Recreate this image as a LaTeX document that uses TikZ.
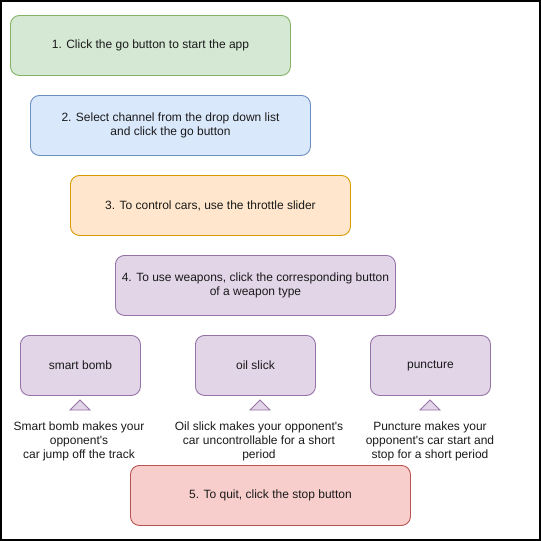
\documentclass[tikz,border=0pt]{standalone}
\usepackage{fontspec}
\setmainfont{Liberation Sans}[Ligatures=TeXOff]
\definecolor{gfill}{HTML}{D5E8D4}\definecolor{gline}{HTML}{82B366}
\definecolor{bfill}{HTML}{DAE8FC}\definecolor{bline}{HTML}{6C8EBF}
\definecolor{ofill}{HTML}{FFE6CC}\definecolor{oline}{HTML}{D79B00}
\definecolor{pfill}{HTML}{E1D5E7}\definecolor{pline}{HTML}{9673A6}
\definecolor{rfill}{HTML}{F8CECC}\definecolor{rline}{HTML}{B85450}
\definecolor{txt}{HTML}{1A1A1A}
\begin{document}
\begin{tikzpicture}[x=1pt,y=-1pt,
  basebox/.style={draw, rounded corners=9pt, line width=0.9pt, anchor=north west,
    minimum height=60pt, align=center, inner sep=2pt, text=txt,
    font=\fontsize{12}{14}\selectfont},
  wide/.style={basebox, minimum width=280pt},
  small/.style={basebox, minimum width=120pt},
  green/.style={fill=gfill, draw=gline},
  blue/.style={fill=bfill, draw=bline},
  orange/.style={fill=ofill, draw=oline},
  purple/.style={fill=pfill, draw=pline},
  red/.style={fill=rfill, draw=rline},
  desc/.style={align=center, inner sep=0pt, text=txt, font=\fontsize{12}{14}\selectfont},
  tri/.style={fill=pfill, draw=pline, line width=0.9pt}]
\useasboundingbox (0,0) rectangle (541,541);
\draw[line width=2pt] (1,1) rectangle (540,540);
\node[wide, green] (s1) at (10,15) {1. Click the go button to start the app};
\node[wide, blue] (s2) at (30,95) {2. Select channel from the drop down list\\and click the go button};
\node[wide, orange] (s3) at (70,175) {3. To control cars, use the throttle slider};
\node[wide, purple] (s4) at (115,255) {4. To use weapons, click the corresponding button\\of a weapon type};
\node[small, purple] (w1) at (20,335) {smart bomb};
\node[small, purple] (w2) at (195,335) {oil slick};
\node[small, purple] (w3) at (370,335) {puncture};
\draw[tri] (70,410) -- (80,400) -- (90,410) -- cycle;
\draw[tri] (250,410) -- (260,400) -- (270,410) -- cycle;
\draw[tri] (420,410) -- (430,400) -- (440,410) -- cycle;
\node[desc] (d1) at (79,441) {Smart bomb makes your\\opponent's\\car jump off the track};
\node[desc] (d2) at (259,441) {Oil slick makes your opponent's\\car uncontrollable for a short\\period};
\node[desc] (d3) at (430,441) {Puncture makes your\\opponent's car start and\\stop for a short period};
\node[wide, red] (s5) at (130,465) {5. To quit, click the stop button};
\end{tikzpicture}
\end{document}
